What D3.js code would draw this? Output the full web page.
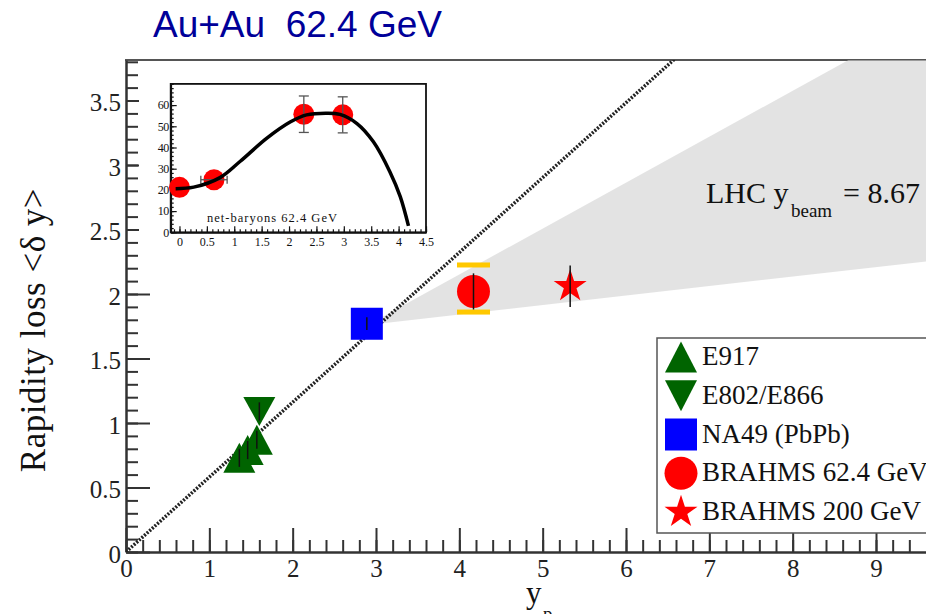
<!DOCTYPE html>
<html>
<head>
<meta charset="utf-8">
<script src="https://cdnjs.cloudflare.com/ajax/libs/d3/7.8.5/d3.min.js"></script>
<style>
  body { margin: 0; background: #fff; }
  svg { display: block; }
</style>
</head>
<body>
<svg></svg>
<script>
// main plot data (rapidity loss vs beam rapidity)
const e917 = [ { yp: 1.36, dy: 0.73, err: 0.07 }, { yp: 1.46, dy: 0.79, err: 0.07 }, { yp: 1.57, dy: 0.87, err: 0.07 } ];
const e802 = [ { yp: 1.60, dy: 1.09, err: 0.07 } ];
const na49 = [ { yp: 2.89, dy: 1.77, err: 0.05 } ];
const brahms62 = [ { yp: 4.17, dy: 2.02, err: 0.14, sysLo: 1.86, sysHi: 2.225 } ];
const brahms200 = [ { yp: 5.33, dy: 2.06, err: 0.16 } ];
// dotted line and grey wedge towards LHC
const diagonal = [ [0, 0], [6.65, 3.86] ];
const wedge = [ [2.9, 1.76], [8.67, 3.814], [9.7, 3.814], [9.7, 2.26] ];
// tick values
const xMajor = [0, 1, 2, 3, 4, 5, 6, 7, 8, 9];
const yMajor = [0, 0.5, 1, 1.5, 2, 2.5, 3, 3.5];
const legendLabels = ["E917", "E802/E866", "NA49 (PbPb)", "BRAHMS 62.4 GeV", "BRAHMS 200 GeV"];

// inset data (net-baryons 62.4 GeV)
const insetPoints = [ { y: 0, n: 21.2, ex: 0, en: 0 }, { y: 0.63, n: 24.8, ex: 0.24, en: 0 }, { y: 2.27, n: 55.7, ex: 0, en: 8.6 }, { y: 2.98, n: 55.4, ex: 0, en: 8.5 } ];
const insetCurve = [ [-0.07, 20.6], [0.26, 21.3], [0.74, 25.8], [1.11, 33.5], [1.59, 44.3], [2.02, 52.0], [2.32, 55.4], [2.69, 56.2], [2.93, 55.6], [3.24, 51.3], [3.54, 42.7], [3.84, 28.6], [4.03, 16.8], [4.18, 3.0] ];
const insetXMajor = [0, 0.5, 1, 1.5, 2, 2.5, 3, 3.5, 4, 4.5];
const insetYMajor = [0, 10, 20, 30, 40, 50, 60];

window.onload = function chart() {
    let width = 926, height = 614;
    let svg = d3.select("svg").attr("width", width).attr("height", height);
    const serif = "'Liberation Serif', 'Times New Roman', serif";
    const green = "#006400", blue = "#0000ff", red = "#ff0000", gold = "#ffc800";

    let x = d3.scaleLinear().domain([0, 9.6]).range([126, 926]);
    let y = d3.scaleLinear().domain([0, 3.814]).range([552, 60]);

    svg.append("defs").append("clipPath").attr("id", "plotClip")
        .append("rect").attr("x", 126).attr("y", 60).attr("width", 800).attr("height", 492);

    // title
    svg.append("text").attr("x", 153).attr("y", 37)
        .style("font-family", "'Liberation Sans', Arial, sans-serif")
        .style("font-size", "37px").style("white-space", "pre").attr("fill", "#000099")
        .text("Au+Au  62.4 GeV");

    // top frame line
    svg.append("line").attr("x1", 125).attr("x2", 926).attr("y1", 60).attr("y2", 60)
        .attr("stroke", "#555").attr("stroke-width", 2);

    // grey wedge
    svg.append("path").attr("clip-path", "url(#plotClip)")
        .attr("d", d3.line().x(d => x(d[0])).y(d => y(d[1]))(wedge) + "Z")
        .attr("fill", "#cfcfcf").attr("fill-opacity", 0.58);

    // axes: major and minor ticks pointing inward
    let xAxis = svg.append("g").attr("transform", "translate(0,552)")
        .call(d3.axisBottom(x).tickValues(xMajor).tickSize(-24).tickSizeOuter(0).tickPadding(7).tickFormat(d => String(d)));
    svg.append("g").attr("transform", "translate(0,552)")
        .call(d3.axisBottom(x).tickValues(d3.range(0, 48).map(i => i * 0.2)).tickSize(-12).tickFormat(""))
        .select(".domain").remove();
    let yAxis = svg.append("g").attr("transform", "translate(126,0)")
        .call(d3.axisLeft(y).tickValues(yMajor).tickSize(-24).tickSizeOuter(0).tickPadding(5).tickFormat(d => String(d)));
    svg.append("g").attr("transform", "translate(126,0)")
        .call(d3.axisLeft(y).tickValues(d3.range(0, 39).map(i => i * 0.1)).tickSize(-12).tickFormat(""))
        .select(".domain").remove();
    svg.selectAll(".tick line").attr("stroke", "#333").attr("stroke-width", 2);
    svg.selectAll(".domain").attr("stroke", "#333").attr("stroke-width", 2.5);
    xAxis.selectAll("text").style("font-family", serif).style("font-size", "25px").attr("fill", "#222");
    yAxis.selectAll("text").style("font-family", serif).style("font-size", "25px").attr("fill", "#222").attr("dy", "0.4em");

    // axis titles
    svg.append("text").style("font-family", serif)
        .attr("transform", "translate(45,330) rotate(-90)").attr("text-anchor", "middle")
        .style("font-size", "35px").style("letter-spacing", "0.5px").attr("fill", "#111").text("Rapidity loss <δ y>");
    let xt = svg.append("text").style("font-family", serif).attr("fill", "#111");
    xt.append("tspan").attr("x", 526).attr("y", 603).style("font-size", "31px").text("y");
    xt.append("tspan").attr("x", 543).attr("y", 620).style("font-size", "19px").text("p");

    // LHC label
    let lhc = svg.append("text").style("font-family", serif).attr("fill", "#111");
    lhc.append("tspan").attr("x", 706).attr("y", 203).style("font-size", "30px").text("LHC y");
    lhc.append("tspan").attr("x", 791).attr("y", 217).style("font-size", "19px").text("beam");
    lhc.append("tspan").attr("x", 843).attr("y", 203).style("font-size", "30px").text("= 8.67");

    // dotted diagonal
    svg.append("path").attr("clip-path", "url(#plotClip)")
        .attr("d", d3.line().x(d => x(d[0])).y(d => y(d[1]))(diagonal))
        .attr("stroke", "#222").attr("stroke-width", 3.5).attr("stroke-dasharray", "2,1.5").attr("fill", "none");

    // marker shapes
    function triUp(w, h) { return "M0," + (-h / 2) + "L" + (w / 2) + "," + (h / 2) + "L" + (-w / 2) + "," + (h / 2) + "Z"; }
    function triDown(w, h) { return "M0," + (h / 2) + "L" + (w / 2) + "," + (-h / 2) + "L" + (-w / 2) + "," + (-h / 2) + "Z"; }
    let squarePath = d3.symbol(d3.symbolSquare, 1024)();
    let circlePath = d3.symbol(d3.symbolCircle, 855)();
    let starPath = d3.symbol(d3.symbolStar, 338)();

    let marks = svg.append("g");
    function drawSeries(data, path, color) {
        marks.selectAll(null).data(data).enter().append("path")
            .attr("d", path).attr("fill", color)
            .attr("transform", d => "translate(" + x(d.yp) + "," + y(d.dy) + ")");
        marks.selectAll(null).data(data).enter().append("line")
            .attr("x1", d => x(d.yp)).attr("x2", d => x(d.yp))
            .attr("y1", d => y(d.dy - d.err)).attr("y2", d => y(d.dy + d.err))
            .attr("stroke", "#111").attr("stroke-width", 1.5);
    }
    // systematic caps for BRAHMS 62.4
    marks.selectAll(null).data(brahms62).enter().append("g").each(function (d) {
        let g = d3.select(this);
        [d.sysLo, d.sysHi].forEach(v => {
            g.append("rect").attr("x", x(d.yp) - 16.5).attr("y", y(v) - 2.5)
                .attr("width", 33).attr("height", 5).attr("fill", gold);
        });
    });
    drawSeries(e917, triUp(32, 30), green);
    drawSeries(e802, triDown(32, 29), green);
    drawSeries(na49, squarePath, blue);
    drawSeries(brahms62, circlePath, red);
    drawSeries(brahms200, starPath, red);

    // legend
    let legend = svg.append("g");
    legend.append("rect").attr("x", 657).attr("y", 338).attr("width", 300).attr("height", 195)
        .attr("fill", "#fff").attr("stroke", "#555").attr("stroke-width", 1.5);
    let legendShapes = [ [triUp(32, 31), green], [triDown(32, 31), green], [squarePath, blue], [circlePath, red], [starPath, red] ];
    legendLabels.forEach((label, i) => {
        let base = 365 + i * 38.75;
        legend.append("path").attr("d", legendShapes[i][0]).attr("fill", legendShapes[i][1])
            .attr("transform", "translate(681," + (base - 8) + ")");
        legend.append("text").style("font-family", serif).attr("x", 702).attr("y", base)
            .style("font-size", "27px").attr("fill", "#111").text(label);
    });

    // ---- inset ----
    let ix = d3.scaleLinear().domain([-0.16, 4.5]).range([170.7, 426]);
    let iy = d3.scaleLinear().domain([0, 70]).range([232.3, 83.9]);
    svg.append("rect").attr("x", 139).attr("y", 68).attr("width", 300).attr("height", 184).attr("fill", "#fff");
    let inset = svg.append("g");
    inset.append("rect").attr("x", 170.7).attr("y", 83.9).attr("width", 255.3).attr("height", 148.4)
        .attr("fill", "none").attr("stroke", "#111").attr("stroke-width", 1.8);
    let ixAxis = inset.append("g").attr("transform", "translate(0,232.3)")
        .call(d3.axisBottom(ix).tickValues(insetXMajor).tickSize(-6).tickSizeOuter(0).tickPadding(5).tickFormat(d => String(d)));
    inset.append("g").attr("transform", "translate(0,232.3)")
        .call(d3.axisBottom(ix).tickValues(d3.range(-1, 46).map(i => i * 0.1)).tickSize(-3).tickFormat(""))
        .select(".domain").remove();
    let iyAxis = inset.append("g").attr("transform", "translate(170.7,0)")
        .call(d3.axisLeft(iy).tickValues(insetYMajor).tickSize(-6).tickSizeOuter(0).tickPadding(2).tickFormat(d => String(d)));
    inset.append("g").attr("transform", "translate(170.7,0)")
        .call(d3.axisLeft(iy).tickValues(d3.range(0, 36).map(i => i * 2)).tickSize(-3).tickFormat(""))
        .select(".domain").remove();
    inset.selectAll(".tick line").attr("stroke", "#111").attr("stroke-width", 1.2);
    inset.selectAll(".domain").attr("stroke", "#111").attr("stroke-width", 1.8);
    ixAxis.selectAll("text").style("font-family", serif).style("font-size", "12px").attr("fill", "#111");
    iyAxis.selectAll("text").style("font-family", serif).style("font-size", "12px").attr("fill", "#111").attr("letter-spacing", "-0.5px");

    inset.append("text").style("font-family", serif).attr("x", 207).attr("y", 222)
        .style("font-size", "12.5px").attr("fill", "#111").attr("textLength", 130)
        .text("net-baryons 62.4 GeV");

    // inset points with error bars
    inset.selectAll(null).data(insetPoints).enter().append("circle")
        .attr("cx", d => ix(d.y)).attr("cy", d => iy(d.n)).attr("r", 10.5).attr("fill", red);
    let errs = inset.selectAll(null).data(insetPoints.filter(d => d.en > 0)).enter().append("g")
        .attr("stroke", "#555").attr("stroke-width", 1.3);
    errs.append("line").attr("x1", d => ix(d.y)).attr("x2", d => ix(d.y)).attr("y1", d => iy(d.n - d.en)).attr("y2", d => iy(d.n + d.en));
    errs.append("line").attr("x1", d => ix(d.y) - 5).attr("x2", d => ix(d.y) + 5).attr("y1", d => iy(d.n - d.en)).attr("y2", d => iy(d.n - d.en));
    errs.append("line").attr("x1", d => ix(d.y) - 5).attr("x2", d => ix(d.y) + 5).attr("y1", d => iy(d.n + d.en)).attr("y2", d => iy(d.n + d.en));
    let herrs = inset.selectAll(null).data(insetPoints.filter(d => d.ex > 0)).enter().append("g")
        .attr("stroke", "#555").attr("stroke-width", 1.3);
    herrs.append("line").attr("x1", d => ix(d.y - d.ex)).attr("x2", d => ix(d.y + d.ex)).attr("y1", d => iy(d.n)).attr("y2", d => iy(d.n));
    herrs.append("line").attr("x1", d => ix(d.y - d.ex)).attr("x2", d => ix(d.y - d.ex)).attr("y1", d => iy(d.n) - 4).attr("y2", d => iy(d.n) + 4);
    herrs.append("line").attr("x1", d => ix(d.y + d.ex)).attr("x2", d => ix(d.y + d.ex)).attr("y1", d => iy(d.n) - 4).attr("y2", d => iy(d.n) + 4);

    // fitted curve
    inset.append("path")
        .attr("d", d3.line().x(d => ix(d[0])).y(d => iy(d[1])).curve(d3.curveCatmullRom.alpha(0.5))(insetCurve))
        .attr("fill", "none").attr("stroke", "#000").attr("stroke-width", 3.5);
}
</script>
</body>
</html>
